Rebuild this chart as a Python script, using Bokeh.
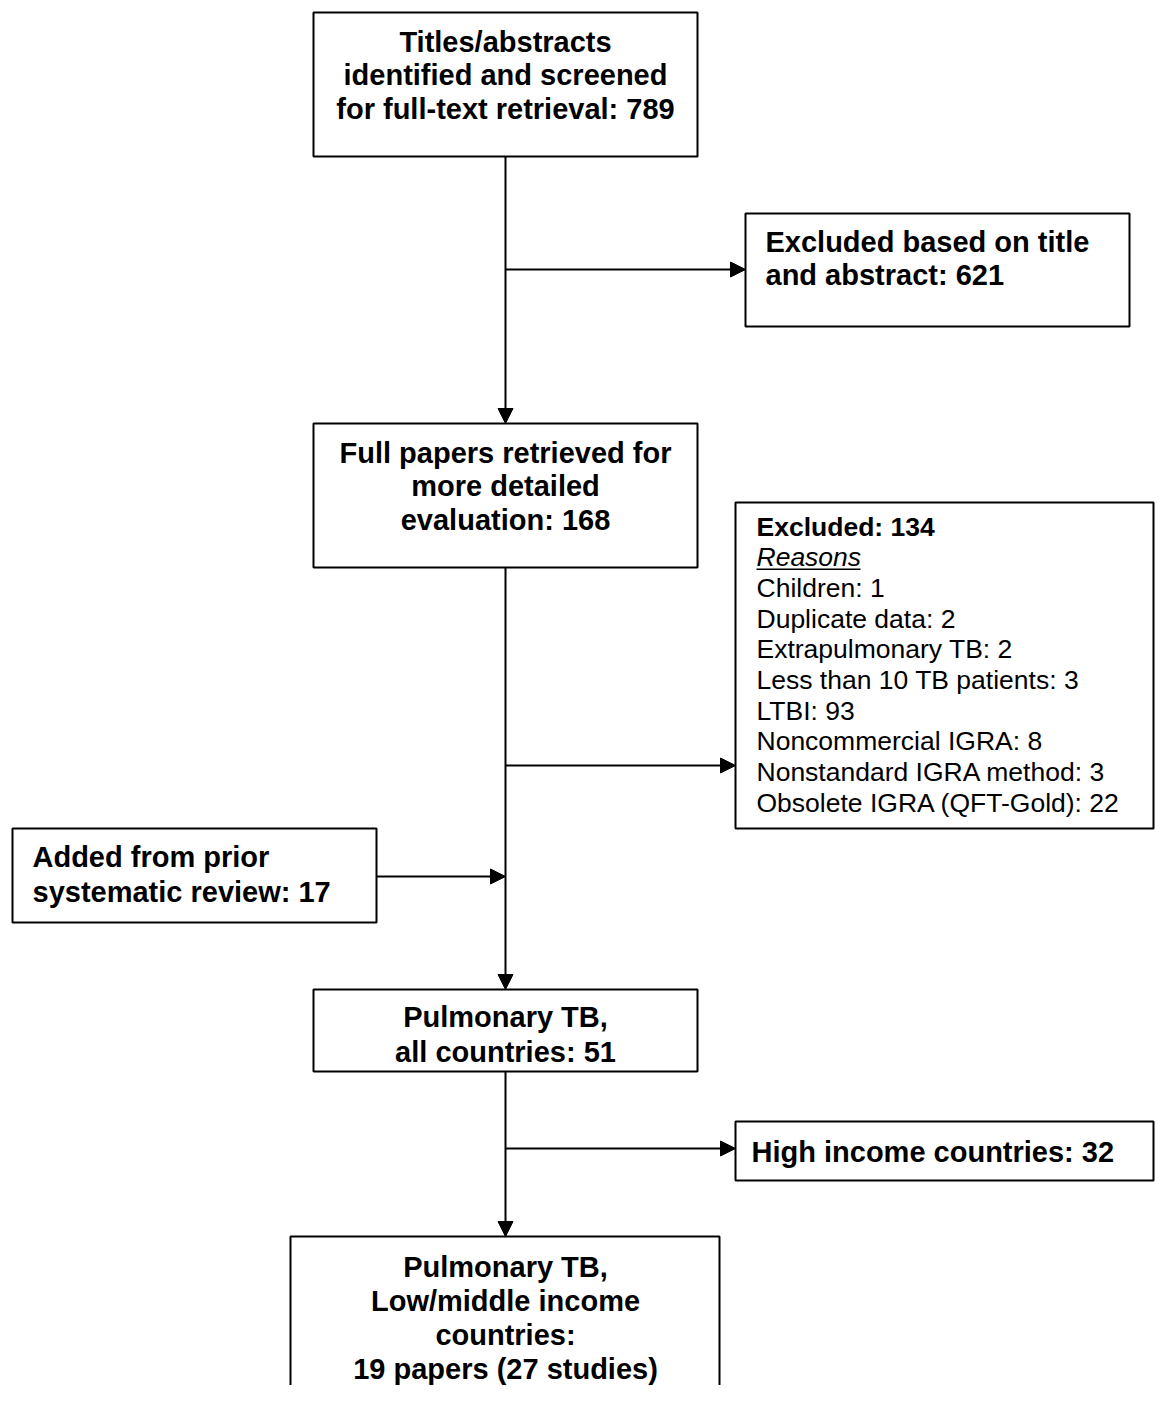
from bokeh.plotting import figure
from bokeh.models import Range1d, Arrow, NormalHead, ColumnDataSource
from bokeh.core.properties import value
from bokeh.embed import file_html
from bokeh.resources import INLINE

# counts at each stage of the review
screened = 789
excluded_title = 621
full_papers = 168
excluded_full = 134
reason_labels = ["Children", "Duplicate data", "Extrapulmonary TB",
                 "Less than 10 TB patients", "LTBI", "Noncommercial IGRA",
                 "Nonstandard IGRA method", "Obsolete IGRA (QFT-Gold)"]
reason_counts = [1, 2, 2, 3, 93, 8, 3, 22]
added_prior = 17
pulmonary_all = 51
high_income = 32
lmic_papers = 19
lmic_studies = 27

# text of each box
box_text = {
    "screen": ["Titles/abstracts", "identified and screened",
               f"for full-text retrieval: {screened}"],
    "excl_title": ["Excluded based on title", f"and abstract: {excluded_title}"],
    "full": ["Full papers retrieved for", "more detailed",
             f"evaluation: {full_papers}"],
    "added": ["Added from prior", f"systematic review: {added_prior}"],
    "pulm": ["Pulmonary TB,", f"all countries: {pulmonary_all}"],
    "high": [f"High income countries: {high_income}"],
    "lmic": ["Pulmonary TB,", "Low/middle income", "countries:",
             f"{lmic_papers} papers ({lmic_studies} studies)"],
}

# layout in pixels: left, right, top, bottom, text x, first baseline, step, align
layout = {
    "screen": (313, 697, 12, 156, 505, 50, 33.5, "center"),
    "excl_title": (745, 1129, 213, 326, 765, 250, 33, "left"),
    "full": (313, 697, 423, 567, 505, 461, 33.5, "center"),
    "excl_full": (735, 1153, 502, 828, 756, 535, 30.7, "left"),
    "added": (12, 376, 828, 922, 32, 865, 35, "left"),
    "pulm": (313, 697, 989, 1071, 505, 1025, 35, "center"),
    "high": (735, 1153, 1121, 1180, 751, 1160, 33, "left"),
    "lmic": (290, 719, 1236, 1460, 505, 1275, 34, "center"),
}
TEXT_SHIFT = -9  # bokeh draws the alphabetic baseline a little low

W, H = 1155, 1385
p = figure(width=W, height=H, output_backend="svg", toolbar_location=None,
           x_range=Range1d(0, W), y_range=Range1d(H, 0),
           x_axis_type=None, y_axis_type=None, min_border=0)
p.grid.visible = False
p.outline_line_color = None
p.background_fill_color = "white"

names = list(layout)
boxes = ColumnDataSource(dict(
    left=[layout[n][0] for n in names], right=[layout[n][1] for n in names],
    top=[layout[n][2] for n in names], bottom=[layout[n][3] for n in names]))
p.quad(left="left", right="right", top="top", bottom="bottom", source=boxes,
       fill_color="white", line_color="black", line_width=2)

font = value("Liberation Sans")
for name, lines in box_text.items():
    l, r, t, b, tx, y0, step, align = layout[name]
    p.text(x=[tx] * len(lines),
           y=[y0 + TEXT_SHIFT + i * step for i in range(len(lines))],
           text=lines, text_font=font, text_font_size="29px",
           text_font_style="bold", text_align=align,
           text_baseline="alphabetic", text_color="black")

# exclusion reasons box
l, r, t, b, tx, y0, step, align = layout["excl_full"]
y0 += TEXT_SHIFT
p.text(x=[tx], y=[y0], text=[f"Excluded: {excluded_full}"], text_font=font,
       text_font_size="26.5px", text_font_style="bold",
       text_baseline="alphabetic")
p.text(x=[tx], y=[y0 + step], text=["Reasons"], text_font=font,
       text_font_size="26.5px", text_font_style="italic",
       text_baseline="alphabetic")
p.segment(x0=[tx], y0=[y0 + step + 12], x1=[tx + 104], y1=[y0 + step + 12],
          line_color="black", line_width=1.5)
reason_text = [f"{lab}: {c}" for lab, c in zip(reason_labels, reason_counts)]
p.text(x=[tx] * len(reason_text),
       y=[y0 + (i + 2) * step for i in range(len(reason_text))],
       text=reason_text, text_font=font, text_font_size="26.5px",
       text_baseline="alphabetic")

# connectors: trunk at x=505 and side branches
connectors = [
    (505, 156, 505, 423), (505, 567, 505, 989), (505, 1071, 505, 1236),
    (505, 269, 745, 269), (505, 765, 735, 765), (376, 876, 505, 876),
    (505, 1148, 735, 1148),
]
for x0, y0, x1, y1 in connectors:
    p.add_layout(Arrow(end=NormalHead(size=15, fill_color="black",
                                      line_color="black", line_width=1),
                       x_start=x0, y_start=y0, x_end=x1, y_end=y1,
                       line_color="black", line_width=2))

open("out.html", "w").write(file_html(p, INLINE))
